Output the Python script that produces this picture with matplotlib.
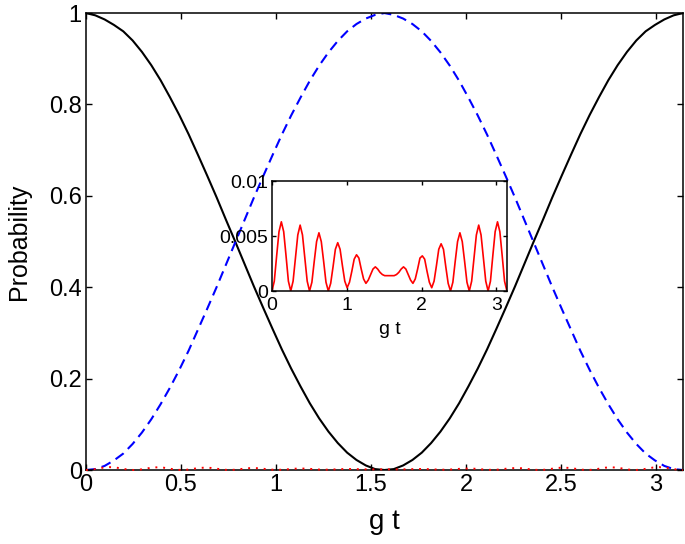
import numpy as np
import matplotlib
matplotlib.use("Agg")
import matplotlib.pyplot as plt

plt.rcParams["font.family"] = ["Liberation Sans", "DejaVu Sans"]

p_black = [1.000, 0.995, 0.986, 0.974, 0.960, 0.940, 0.915, 0.886, 0.853,
           0.816, 0.777, 0.735, 0.690, 0.644, 0.597, 0.548, 0.500, 0.451,
           0.402, 0.355, 0.309, 0.264, 0.222, 0.183, 0.146, 0.113, 0.084,
           0.059, 0.038, 0.022, 0.010, 0.002, 0.000, 0.002, 0.010, 0.022,
           0.038, 0.059, 0.084, 0.113, 0.146, 0.183, 0.222, 0.264, 0.309,
           0.355, 0.402, 0.451, 0.500, 0.548, 0.597, 0.644, 0.690, 0.735,
           0.777, 0.816, 0.853, 0.886, 0.915, 0.940, 0.960, 0.974, 0.986,
           0.995, 1.000]
p_blue = [0.000, 0.002, 0.009, 0.021, 0.036, 0.057, 0.082, 0.111, 0.144,
          0.180, 0.219, 0.261, 0.307, 0.353, 0.400, 0.449, 0.498, 0.547,
          0.596, 0.643, 0.689, 0.734, 0.776, 0.815, 0.852, 0.885, 0.914,
          0.939, 0.960, 0.976, 0.988, 0.996, 1.000, 0.996, 0.988, 0.976,
          0.960, 0.939, 0.914, 0.885, 0.852, 0.815, 0.776, 0.734, 0.689,
          0.643, 0.596, 0.547, 0.498, 0.449, 0.400, 0.353, 0.307, 0.261,
          0.219, 0.180, 0.144, 0.111, 0.082, 0.057, 0.036, 0.021, 0.009,
          0.002, 0.000]

# small leakage population (inset), sampled on 101 points over [0, pi]
p_red = [
    0, 0.0009, 0.0032, 0.0054, 0.0063, 0.0054, 0.0032, 0.0009,
    0, 0.0009, 0.0030, 0.0051, 0.0060, 0.0051, 0.0030, 0.0009,
    0, 0.0008, 0.0027, 0.0045, 0.0053, 0.0045, 0.0027, 0.0008,
    0, 0.0007, 0.0022, 0.0038, 0.0044, 0.0038, 0.0023, 0.0009,
    0.0003, 0.0008, 0.0018, 0.0029, 0.0033, 0.0030, 0.0020, 0.0011,
    0.0007, 0.0010, 0.0015, 0.0020, 0.0022, 0.0020, 0.0017, 0.0015,
    0.0014, 0.0014, 0.0014, 0.0014, 0.0014,
    0.0015, 0.0017, 0.0020, 0.0022, 0.0020, 0.0015, 0.0010, 0.0007,
    0.0011, 0.0020, 0.0030, 0.0032, 0.0029, 0.0018, 0.0008, 0.0003,
    0.0009, 0.0023, 0.0038, 0.0043, 0.0038, 0.0022, 0.0007, 0,
    0.0008, 0.0027, 0.0045, 0.0053, 0.0045, 0.0027, 0.0008, 0,
    0.0009, 0.0030, 0.0051, 0.0060, 0.0051, 0.0030, 0.0009, 0,
    0.0009, 0.0032, 0.0054, 0.0063, 0.0054, 0.0032, 0.0009, 0,
]

gt_main = np.linspace(0, np.pi, len(p_black))
gt_red = np.linspace(0, np.pi, len(p_red))

main_xticks = [0, 0.5, 1, 1.5, 2, 2.5, 3]
main_xlabels = ["0", "0.5", "1", "1.5", "2", "2.5", "3"]
main_yticks = [0, 0.2, 0.4, 0.6, 0.8, 1]
main_ylabels = ["0", "0.2", "0.4", "0.6", "0.8", "1"]
inset_xticks = [0, 1, 2, 3]
inset_yticks = [0, 0.005, 0.01]
inset_ylabels = ["0", "0.005", "0.01"]


def style_axes(ax, size):
    ax.tick_params(direction="in", top=True, right=True, length=4.5,
                   width=1.0, labelsize=size, pad=3)
    for sp in ax.spines.values():
        sp.set_linewidth(1.1)


fig = plt.figure(figsize=(6.85, 5.44), dpi=100)
ax = fig.add_axes([0.1255, 0.136, 0.8715, 0.840])

ax.plot(gt_main, p_black, color="black", lw=1.5)
ax.plot(gt_main, p_blue, color="#0000ff", lw=1.5, dashes=(4.8, 2.9))
ax.plot(gt_red, p_red, color="#ff0000", lw=1.4, dashes=(1, 3),
        clip_on=False, zorder=3)

ax.set_xlim(0, np.pi)
ax.set_ylim(0, 1)
ax.set_xticks(main_xticks)
ax.set_xticklabels(main_xlabels)
ax.set_yticks(main_yticks)
ax.set_yticklabels(main_ylabels)
ax.set_xlabel("g t", fontsize=20, labelpad=9)
ax.set_ylabel("Probability", fontsize=18, labelpad=13)
style_axes(ax, 17)

# inset with the small population
axin = fig.add_axes([0.397, 0.465, 0.343, 0.202])
axin.plot(gt_red, p_red, color="#ff0000", lw=1.2)
axin.set_xlim(0, np.pi)
axin.set_ylim(0, 0.01)
axin.set_xticks(inset_xticks)
axin.set_xticklabels([str(t) for t in inset_xticks])
axin.set_yticks(inset_yticks)
axin.set_yticklabels(inset_ylabels)
axin.set_xlabel("g t", fontsize=14, labelpad=5)
style_axes(axin, 14)
axin.tick_params(length=3)
axin.tick_params(axis="x", pad=4.5)
axin.tick_params(axis="y", pad=3)

fig.savefig("out.png", dpi=100)
